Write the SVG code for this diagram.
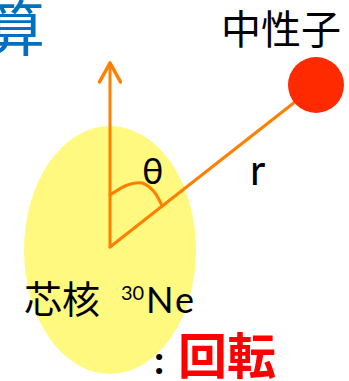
<svg xmlns="http://www.w3.org/2000/svg" width="349" height="381" viewBox="0 0 349 381">
  <style>
    .cjk { font-family: "Noto Sans CJK JP", "Noto Sans CJK SC", sans-serif; }
    .lat { font-family: "Lato", "Liberation Sans", sans-serif; }
    .ln { stroke: #FF8000; stroke-width: 3; fill: none; stroke-linecap: round; stroke-linejoin: round; }
  </style>
  <defs>
    <marker id="chev" viewBox="0 0 24 24" markerUnits="userSpaceOnUse" markerWidth="24" markerHeight="24" refX="22" refY="12" orient="auto">
      <polyline points="3,1.5 22,12 3,22.5" fill="none" stroke="#FF8000" stroke-width="3.5" stroke-linecap="round" stroke-linejoin="round"/>
    </marker>
  </defs>
  <rect width="349" height="381" fill="#FFFFFF"/>

  <g id="title">
    <text class="cjk" x="-15" y="51" font-size="60" fill="#0070C0">算</text>
  </g>

  <g id="core">
    <ellipse cx="110" cy="250" rx="86" ry="124" fill="#FFF97F"/>
  </g>

  <g id="connectors">
    <line class="ln" x1="110" y1="247" x2="110" y2="63" marker-end="url(#chev)"/>
    <line class="ln" x1="110" y1="247" x2="300" y2="98"/>
    <path class="ln" d="M110,195 C122,187 132,181 142,183 C151,186 158,196 162,206"/>
  </g>

  <g id="neutron">
    <circle cx="316" cy="85" r="28" fill="#FF2A00"/>
    <text class="cjk" x="221" y="44" font-size="40" fill="#000000">中性子</text>
  </g>

  <g id="labels">
    <text class="lat" x="142" y="184" font-size="36" fill="#000000">θ</text>
    <text class="lat" x="250" y="185" font-size="42" fill="#000000">r</text>
    <text y="313" fill="#000000"><tspan class="cjk" x="24" font-size="38">芯核</tspan><tspan class="lat" x="121" y="300" font-size="20">30</tspan><tspan class="lat" x="146" y="313" font-size="36" letter-spacing="2">Ne</tspan></text>
    <text class="lat" x="154" y="374" font-size="40" font-weight="bold" fill="#000000">:</text>
    <text class="cjk" x="178" y="374" font-size="49" font-weight="bold" fill="#FF0000">回転</text>
  </g>
</svg>
